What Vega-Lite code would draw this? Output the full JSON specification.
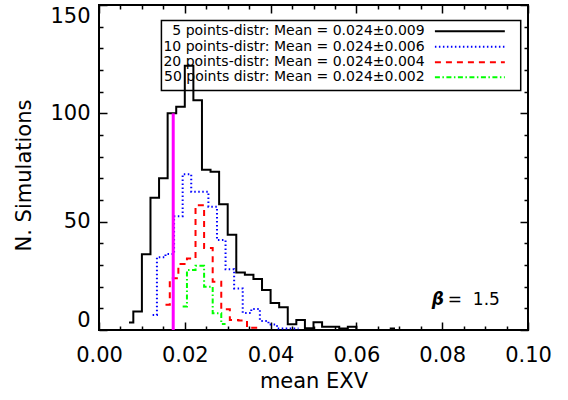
{
  "$schema": "https://vega.github.io/schema/vega-lite/v6.json",
  "width": 429,
  "height": 325,
  "autosize": {"type": "none"},
  "padding": {"left": 99, "top": 5, "right": 40, "bottom": 70},
  "background": "white",
  "config": {
    "view": {"stroke": "black", "strokeWidth": 2},
    "axis": {
      "grid": false,
      "domain": false,
      "tickColor": "black",
      "tickWidth": 1.5,
      "labelColor": "black",
      "labelFont": "DejaVu Sans",
      "labelFontSize": 21,
      "titleFont": "DejaVu Sans",
      "titleFontSize": 21,
      "titleFontWeight": "normal",
      "titleColor": "black"
    }
  },
  "datasets": {
    "black": [
      {"x": 0.007, "n": 3.5}, {"x": 0.009, "n": 8.5}, {"x": 0.011, "n": 35}, {"x": 0.013, "n": 61},
      {"x": 0.015, "n": 70}, {"x": 0.017, "n": 100}, {"x": 0.019, "n": 103}, {"x": 0.021, "n": 122},
      {"x": 0.023, "n": 106}, {"x": 0.025, "n": 74}, {"x": 0.027, "n": 73}, {"x": 0.029, "n": 58},
      {"x": 0.031, "n": 44}, {"x": 0.033, "n": 26.5}, {"x": 0.035, "n": 25.5}, {"x": 0.037, "n": 23.5},
      {"x": 0.039, "n": 18.5}, {"x": 0.041, "n": 12.5}, {"x": 0.043, "n": 10.5}, {"x": 0.045, "n": 2.6},
      {"x": 0.047, "n": 4.6}, {"x": 0.049, "n": 0.8}, {"x": 0.051, "n": 3.6}, {"x": 0.053, "n": 1.5},
      {"x": 0.055, "n": 1.5}, {"x": 0.057, "n": 0.7}, {"x": 0.059, "n": 1.5}, {"x": 0.061, "n": 0},
      {"x": 0.063, "n": 0}, {"x": 0.065, "n": 0}, {"x": 0.067, "n": 0}, {"x": 0.069, "n": 0.7}
    ],
    "blue": [
      {"x": 0.0125, "n": 6.9}, {"x": 0.0145, "n": 33.6}, {"x": 0.0165, "n": 35.1}, {"x": 0.0185, "n": 52.5},
      {"x": 0.0205, "n": 71.9}, {"x": 0.0225, "n": 63.8}, {"x": 0.0245, "n": 63.8}, {"x": 0.0265, "n": 56.9},
      {"x": 0.0285, "n": 41.5}, {"x": 0.0305, "n": 28}, {"x": 0.0325, "n": 19.2}, {"x": 0.0345, "n": 7.9},
      {"x": 0.0365, "n": 9.7}, {"x": 0.0385, "n": 4.2}, {"x": 0.0405, "n": 2.5}, {"x": 0.0425, "n": 0.7},
      {"x": 0.0445, "n": 0.7}, {"x": 0.0465, "n": 0.7}
    ],
    "red": [
      {"x": 0.0155, "n": 11.6}, {"x": 0.0175, "n": 23.9}, {"x": 0.0195, "n": 30.5}, {"x": 0.0215, "n": 33},
      {"x": 0.0235, "n": 57.6}, {"x": 0.0255, "n": 37.8}, {"x": 0.0275, "n": 22.3}, {"x": 0.0295, "n": 9.6},
      {"x": 0.0315, "n": 4.6}, {"x": 0.0335, "n": 4.4}, {"x": 0.0355, "n": 1}, {"x": 0.0375, "n": 1}
    ],
    "green": [
      {"x": 0.0195, "n": 10.8}, {"x": 0.0215, "n": 27.7}, {"x": 0.0235, "n": 29.6}, {"x": 0.0255, "n": 20},
      {"x": 0.0275, "n": 7.7}, {"x": 0.0295, "n": 2.8}
    ],
    "truth": [{"x": 0.0173, "y1": 0, "y2": 100}],
    "legendbox": [{"x1": 0.01455, "x2": 0.0983, "y1": 110.5, "y2": 142.9}],
    "legendlines": [
      {"s": "5", "x1": 0.0783, "x2": 0.0946, "y": 137.9},
      {"s": "10", "x1": 0.0783, "x2": 0.0946, "y": 130.7},
      {"s": "20", "x1": 0.0783, "x2": 0.0946, "y": 123.6},
      {"s": "50", "x1": 0.0783, "x2": 0.0946, "y": 116.6}
    ],
    "legendtext": [
      {"x": 0.0759, "y": 137.9, "t": "5 points-distr: Mean = 0.024±0.009"},
      {"x": 0.0759, "y": 130.7, "t": "10 points-distr: Mean = 0.024±0.006"},
      {"x": 0.0759, "y": 123.6, "t": "20 points-distr: Mean = 0.024±0.004"},
      {"x": 0.0759, "y": 116.6, "t": "50 points distr: Mean = 0.024±0.002"}
    ],
    "beta": [{"x": 0.0790, "y": 13.9, "t": "β"}],
    "betaval": [{"x": 0.0813, "y": 13.9, "t": "=\u00a0\u00a01.5"}]
  },
  "resolve": {"axis": {"x": "independent", "y": "independent"}},
  "layer": [
    {
      "data": {"name": "legendbox"},
      "mark": {"type": "rect", "fill": "white", "stroke": "black", "strokeWidth": 1.5},
      "encoding": {
        "x": {"field": "x1", "type": "quantitative", "scale": {"domain": [0, 0.1], "nice": false, "zero": false}, "axis": null},
        "x2": {"field": "x2"},
        "y": {"field": "y1", "type": "quantitative", "scale": {"domain": [0, 150], "nice": false}, "axis": null},
        "y2": {"field": "y2"}
      }
    },
    {
      "data": {"name": "black"},
      "mark": {"type": "line", "interpolate": "step", "color": "black", "strokeWidth": 2},
      "encoding": {
        "x": {"field": "x", "type": "quantitative", "scale": {"domain": [0, 0.1], "nice": false, "zero": false},
          "axis": {"orient": "bottom", "values": [0, 0.02, 0.04, 0.06, 0.08, 0.1], "format": ".2f", "tickSize": -8,
            "labelPadding": 22, "labelFlush": false, "labelOverlap": false, "title": "mean EXV",
            "titleX": 214.5, "titleY": 51, "titleAlign": "center", "titleBaseline": "middle"}},
        "y": {"field": "n", "type": "quantitative", "scale": {"domain": [0, 150], "nice": false},
          "axis": {"orient": "left", "values": [0, 50, 100, 150], "tickSize": -8, "labelPadding": 17,
            "labelFlush": true, "labelOverlap": false, "title": "N. Simulations",
            "titleX": -75, "titleY": 170, "titleAngle": -90, "titleAlign": "center", "titleBaseline": "middle"}}
      }
    },
    {
      "data": {"name": "blue"},
      "mark": {"type": "line", "interpolate": "step", "color": "#0000ff", "strokeWidth": 2, "strokeDash": [1.5, 2.5]},
      "encoding": {
        "x": {"field": "x", "type": "quantitative", "scale": {"domain": [0, 0.1], "nice": false, "zero": false},
          "axis": {"orient": "bottom", "values": [0.005, 0.01, 0.015, 0.025, 0.03, 0.035, 0.045, 0.05, 0.055, 0.065, 0.07, 0.075, 0.085, 0.09, 0.095],
            "tickSize": -4, "labels": false, "title": null}},
        "y": {"field": "n", "type": "quantitative", "scale": {"domain": [0, 150], "nice": false},
          "axis": {"orient": "left", "values": [10, 20, 30, 40, 60, 70, 80, 90, 110, 120, 130, 140],
            "tickSize": -4, "labels": false, "title": null}}
      }
    },
    {
      "data": {"name": "red"},
      "mark": {"type": "line", "interpolate": "step", "color": "#ff0000", "strokeWidth": 2, "strokeDash": [6, 5]},
      "encoding": {
        "x": {"field": "x", "type": "quantitative", "scale": {"domain": [0, 0.1], "nice": false, "zero": false},
          "axis": {"orient": "top", "values": [0, 0.02, 0.04, 0.06, 0.08, 0.1], "tickSize": -8, "labels": false, "title": null}},
        "y": {"field": "n", "type": "quantitative", "scale": {"domain": [0, 150], "nice": false},
          "axis": {"orient": "right", "values": [0, 50, 100, 150], "tickSize": -8, "labels": false, "title": null}}
      }
    },
    {
      "data": {"name": "green"},
      "mark": {"type": "line", "interpolate": "step", "color": "#00ff00", "strokeWidth": 2, "strokeDash": [5, 2.5, 1.5, 2.5]},
      "encoding": {
        "x": {"field": "x", "type": "quantitative", "scale": {"domain": [0, 0.1], "nice": false, "zero": false},
          "axis": {"orient": "top", "values": [0.005, 0.01, 0.015, 0.025, 0.03, 0.035, 0.045, 0.05, 0.055, 0.065, 0.07, 0.075, 0.085, 0.09, 0.095],
            "tickSize": -4, "labels": false, "title": null}},
        "y": {"field": "n", "type": "quantitative", "scale": {"domain": [0, 150], "nice": false},
          "axis": {"orient": "right", "values": [10, 20, 30, 40, 60, 70, 80, 90, 110, 120, 130, 140],
            "tickSize": -4, "labels": false, "title": null}}
      }
    },
    {
      "data": {"name": "truth"},
      "mark": {"type": "rule", "color": "#ff00ff", "strokeWidth": 3},
      "encoding": {
        "x": {"field": "x", "type": "quantitative", "scale": {"domain": [0, 0.1], "nice": false, "zero": false}, "axis": null},
        "y": {"field": "y1", "type": "quantitative", "scale": {"domain": [0, 150], "nice": false}, "axis": null},
        "y2": {"field": "y2"}
      }
    },
    {
      "data": {"name": "legendlines"},
      "mark": {"type": "rule", "strokeWidth": 2},
      "encoding": {
        "x": {"field": "x1", "type": "quantitative", "scale": {"domain": [0, 0.1], "nice": false, "zero": false}, "axis": null},
        "x2": {"field": "x2"},
        "y": {"field": "y", "type": "quantitative", "scale": {"domain": [0, 150], "nice": false}, "axis": null},
        "color": {"field": "s", "type": "nominal", "scale": {"domain": ["5", "10", "20", "50"], "range": ["#000000", "#0000ff", "#ff0000", "#00ff00"]}, "legend": null},
        "strokeDash": {"field": "s", "type": "nominal", "scale": {"domain": ["5", "10", "20", "50"], "range": [[1, 0], [1.5, 2.5], [6, 5], [5, 2.5, 1.5, 2.5]]}, "legend": null}
      }
    },
    {
      "data": {"name": "legendtext"},
      "mark": {"type": "text", "align": "right", "baseline": "middle", "font": "DejaVu Sans", "fontSize": 14, "color": "black"},
      "encoding": {
        "x": {"field": "x", "type": "quantitative", "scale": {"domain": [0, 0.1], "nice": false, "zero": false}, "axis": null},
        "y": {"field": "y", "type": "quantitative", "scale": {"domain": [0, 150], "nice": false}, "axis": null},
        "text": {"field": "t"}
      }
    },
    {
      "data": {"name": "beta"},
      "mark": {"type": "text", "align": "center", "baseline": "middle", "font": "DejaVu Sans", "fontSize": 17, "fontWeight": "bold", "fontStyle": "italic", "color": "black"},
      "encoding": {
        "x": {"field": "x", "type": "quantitative", "scale": {"domain": [0, 0.1], "nice": false, "zero": false}, "axis": null},
        "y": {"field": "y", "type": "quantitative", "scale": {"domain": [0, 150], "nice": false}, "axis": null},
        "text": {"field": "t"}
      }
    },
    {
      "data": {"name": "betaval"},
      "mark": {"type": "text", "align": "left", "baseline": "middle", "font": "DejaVu Sans", "fontSize": 17, "color": "black"},
      "encoding": {
        "x": {"field": "x", "type": "quantitative", "scale": {"domain": [0, 0.1], "nice": false, "zero": false}, "axis": null},
        "y": {"field": "y", "type": "quantitative", "scale": {"domain": [0, 150], "nice": false}, "axis": null},
        "text": {"field": "t"}
      }
    }
  ]
}
